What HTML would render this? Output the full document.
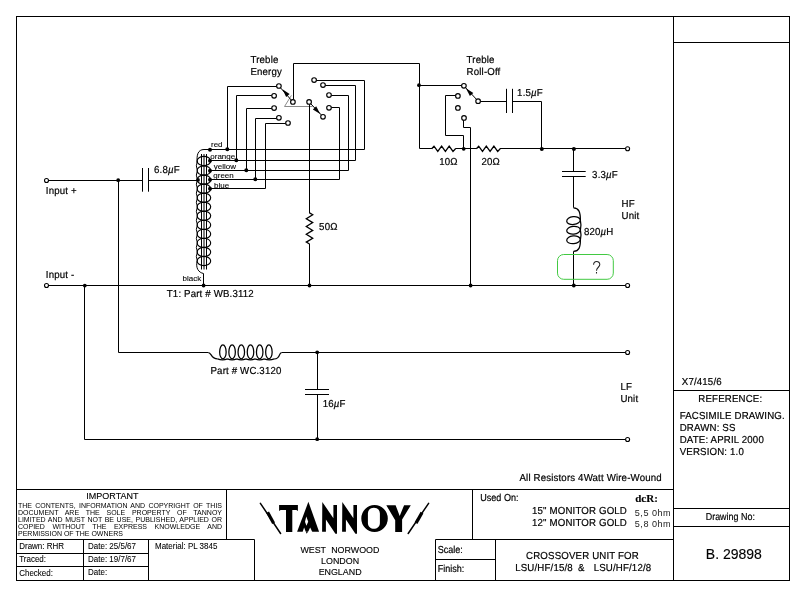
<!DOCTYPE html>
<html>
<head>
<meta charset="utf-8">
<title>Tannoy Crossover Unit B.29898</title>
<style>
html,body{margin:0;padding:0;background:#fff;}
body{width:806px;height:596px;overflow:hidden;position:relative;font-family:"Liberation Sans",sans-serif;}
svg{position:absolute;left:0;top:0;display:block;will-change:transform;}
#imp{will-change:transform;}
svg text{font-family:"Liberation Sans",sans-serif;fill:#000;stroke:#000;stroke-width:0.13px;}
.w{stroke:#000;stroke-width:1;fill:none;stroke-linecap:butt;stroke-linejoin:miter;}
.k{stroke-width:1.25;}
.k2{stroke-width:1.15;}
.r{stroke-width:1.3;}
.d{fill:#000;stroke:none;}
.g{stroke:#8a8a8a;stroke-width:1;fill:none;}
.c{fill:#fff;stroke:#000;stroke-width:1.15;}
.t{font-size:10.1px;letter-spacing:0.155px;stroke-width:0.2px !important;}
.n{font-size:8.9px;}
.i{font-size:9px;}
.b{font-size:14px;}
.u{font-size:10.1px;stroke-width:0.2px !important;}
.dn{font-size:10.1px;stroke-width:0.2px !important;}
.q{font-size:16px;fill:#333 !important;}
.o{font-size:9.1px;letter-spacing:0.5px;fill:#222 !important;stroke:none !important;}
.p{font-size:7.2px;stroke-width:0.1px !important;}
.s{font-size:8.5px;stroke-width:0.08px !important;}
.x{font-size:7px;}
.ser{font-family:"Liberation Serif",serif !important;font-weight:bold;font-size:11px;}
#imp{position:absolute;left:18.3px;top:502.7px;width:204px;font-size:7px;line-height:6.9px;color:#000;white-space:nowrap;}
#imp div{text-align:justify;text-align-last:justify;height:6.9px;}
#imp div.l{text-align-last:left;}
</style>
</head>
<body>
<svg width="806" height="596" viewBox="0 0 806 596">
<!-- FRAME -->
<g class="w" id="frame">
<rect x="16.5" y="16.5" width="773" height="564"/>
<path d="M673.5 16.5V580.5"/>
<path d="M673.5 42.5H789.5M673.5 390.5H789.5M673.5 508.5H789.5M673.5 526.5H789.5"/>
<path d="M16.5 489.5H673.5"/>
<path d="M16.5 539.5H254.5M435.5 539.5H673.5"/>
<path d="M226.5 489.5V539.5M472.5 489.5V539.5"/>
<path d="M254.5 539.5V580.5M435.5 539.5V580.5M495.5 539.5V580.5"/>
<path d="M435.5 559.5H495.5"/>
<path d="M83.5 539.5V580.5M148.5 539.5V580.5"/>
<path d="M16.5 553.5H148.5M16.5 566.5H148.5"/>
</g>
<!-- CIRCUIT -->
<g id="circuit">
<path class="w" d="M48.5 180.5H142.5M142.5 168V191.7M148.5 168V191.7M148.5 180.5H198"/>
<path class="w" d="M118.5 180.5V352.5H208.4"/>
<path class="w" d="M48.5 285.5H625.5"/>
<path class="w" d="M84.5 285.5V439.5H625.5"/>
<path class="w k" d="M208.4 352.5C211.5 352.5 211 358.9 217.5 358.9"/>
<ellipse class="w k" cx="222.9" cy="351.9" rx="3.25" ry="7.0"/>
<ellipse class="w k" cx="232.1" cy="351.9" rx="3.25" ry="7.0"/>
<ellipse class="w k" cx="241.3" cy="351.9" rx="3.25" ry="7.0"/>
<ellipse class="w k" cx="250.5" cy="351.9" rx="3.25" ry="7.0"/>
<ellipse class="w k" cx="259.7" cy="351.9" rx="3.25" ry="7.0"/>
<ellipse class="w k" cx="268.9" cy="351.9" rx="3.25" ry="7.0"/>
<path class="w k" d="M217.5 358.9Q222.5 360.7 227.5 358.9M227.5 358.9Q232.1 360.7 236.7 358.9M236.7 358.9Q241.3 360.7 245.9 358.9M245.9 358.9Q250.5 360.7 255.1 358.9M255.1 358.9Q259.7 360.7 264.3 358.9M264.3 358.9Q269.3 360.7 274.3 358.9"/>
<path class="w k" d="M274.3 358.9C280.8 358.9 278.5 352.5 281.6 352.5"/>
<path class="w" d="M281.6 352.5H625.5"/>
<path class="w" d="M317.5 352.5V389.5M305 389.5H329M305 394.5H329M317.5 394.5V439.5"/>
<circle class="d" cx="317.2" cy="352.3" r="1.9"/>
<circle class="d" cx="317.2" cy="439.2" r="1.9"/>
<circle class="d" cx="118.2" cy="180.2" r="1.9"/>
<circle class="d" cx="84.8" cy="285.6" r="1.9"/>
<ellipse class="w k2" cx="203.9" cy="161.0" rx="6.8" ry="4.6"/>
<ellipse class="w k2" cx="203.9" cy="170.6" rx="6.8" ry="4.6"/>
<ellipse class="w k2" cx="203.9" cy="179.7" rx="6.8" ry="4.6"/>
<ellipse class="w k2" cx="203.9" cy="188.7" rx="6.8" ry="4.6"/>
<ellipse class="w k2" cx="203.9" cy="197.8" rx="6.8" ry="4.6"/>
<ellipse class="w k2" cx="203.9" cy="206.8" rx="6.8" ry="4.6"/>
<ellipse class="w k2" cx="203.9" cy="215.8" rx="6.8" ry="4.6"/>
<ellipse class="w k2" cx="203.9" cy="224.9" rx="6.8" ry="4.6"/>
<ellipse class="w k2" cx="203.9" cy="233.9" rx="6.8" ry="4.6"/>
<ellipse class="w k2" cx="203.9" cy="242.9" rx="6.8" ry="4.6"/>
<ellipse class="w k2" cx="203.9" cy="252.0" rx="6.8" ry="4.6"/>
<ellipse class="w k2" cx="203.9" cy="261.0" rx="6.8" ry="4.6"/>
<path class="w" d="M201.5 154V269.5M204 154V269.5M206.5 154V269.5"/>
<path class="w" d="M201.5 165.8H206.5M201.5 175.1H206.5M201.5 184.2H206.5M201.5 193.2H206.5M201.5 202.3H206.5M201.5 211.3H206.5M201.5 220.4H206.5M201.5 229.4H206.5M201.5 238.4H206.5M201.5 247.4H206.5M201.5 256.5H206.5"/>
<path class="w" d="M197.3 163C196.3 155 198 149.5 204 149.5H210"/>
<path class="w" d="M197.4 161.0Q195.3 165.8 197.4 170.6M197.4 170.6Q195.3 175.1 197.4 179.7M197.4 179.7Q195.3 184.2 197.4 188.7M197.4 188.7Q195.3 193.2 197.4 197.8M197.4 197.8Q195.3 202.3 197.4 206.8M197.4 206.8Q195.3 211.3 197.4 215.8M197.4 215.8Q195.3 220.4 197.4 224.9M197.4 224.9Q195.3 229.4 197.4 233.9M197.4 233.9Q195.3 238.4 197.4 242.9M197.4 242.9Q195.3 247.4 197.4 252.0M197.4 252.0Q195.3 256.5 197.4 261.0"/>
<path class="w" d="M197.1 261.0C195.5 268 198.5 272.5 203.5 273.5V285.5"/>
<circle class="d" cx="203.6" cy="285.5" r="1.9"/>
<circle class="d" cx="198.0" cy="179.9" r="1.9"/>
<circle class="d" cx="210.0" cy="149.7" r="2.0"/>
<circle class="d" cx="210.0" cy="160.7" r="2.0"/>
<circle class="d" cx="210.0" cy="170.7" r="2.0"/>
<circle class="d" cx="210.0" cy="179.7" r="2.0"/>
<circle class="d" cx="210.0" cy="188.7" r="2.0"/>
<path class="w" d="M210 149.5H364.5"/>
<path class="w" d="M210 160.5H355.5"/>
<path class="w" d="M210 170.5H348.5"/>
<path class="w" d="M210 179.5H339.5"/>
<path class="w" d="M210 188.5H265.5V123.5H285.8"/>
<path class="w" d="M227.5 149.5V86.5H276.7"/>
<circle class="d" cx="227.3" cy="149.2" r="2.0"/>
<path class="w" d="M236.5 160.5V95.5H271.90000000000003"/>
<circle class="d" cx="236.3" cy="160.2" r="2.0"/>
<path class="w" d="M246.5 170.5V108.5H271.90000000000003"/>
<circle class="d" cx="246.3" cy="170.2" r="2.0"/>
<path class="w" d="M255.5 179.5V118.5H276.7"/>
<circle class="d" cx="255.3" cy="179.2" r="2.0"/>
<path class="w" d="M316.3 80.5H364.5V149.5"/>
<path class="w" d="M325.2 85.5H355.5V160.5"/>
<path class="w" d="M331.2 95.5H348.5V170.5"/>
<path class="w" d="M331.2 107.5H339.5V179.5"/>
<path class="w" d="M293.5 99.6V63.5H419.5V148.5"/>
<path class="g" d="M291.4 95.4L284.5 106.5H312.5"/>
<path class="w" d="M309.5 104.2V213.2M309.5 243.8V285.5"/>
<path class="w r" d="M309.5 212.9l3.2 1.9l-6.4 3.9l6.4 3.9l-6.4 3.9l6.4 3.9l-6.4 3.9l6.4 3.9l-6.4 3.9l3.2 1.9"/>
<circle class="d" cx="309.5" cy="285.5" r="1.9"/>
<path class="w" d="M291.3 100.1L280.5 87.8"/>
<path class="d" d="M282.4 89.3L289.6 94.0L286.2 97.0Z"/>
<path class="w" d="M310.7 103.7L321.4 115.0"/>
<path class="d" d="M320.2 113.9L312.9 109.4L316.2 106.3Z"/>
<circle class="c" cx="278.9" cy="86.0" r="2.3"/>
<circle class="c" cx="274.1" cy="95.8" r="2.3"/>
<circle class="c" cx="274.1" cy="108.1" r="2.3"/>
<circle class="c" cx="278.9" cy="117.8" r="2.3"/>
<circle class="c" cx="288.0" cy="123.0" r="2.3"/>
<circle class="c" cx="314.1" cy="80.1" r="2.3"/>
<circle class="c" cx="323.0" cy="85.1" r="2.3"/>
<circle class="c" cx="329.0" cy="95.1" r="2.3"/>
<circle class="c" cx="329.0" cy="107.8" r="2.3"/>
<circle class="c" cx="323.0" cy="116.8" r="2.3"/>
<circle class="c" cx="292.9" cy="101.9" r="2.3"/>
<circle class="c" cx="309.1" cy="101.9" r="2.3"/>
<path class="w" d="M419.5 148.5H432M455.2 148.5H476.7M499.9 148.5H625.5"/>
<path class="w r" d="M431.7 148.8l2.3 -2.6l3.8 5.2l3.8 -5.2l3.8 5.2l3.8 -5.2l3.8 5.2l2.5 -2.6M476.4 148.8l2.3 -2.6l3.8 5.2l3.8 -5.2l3.8 5.2l3.8 -5.2l3.8 5.2l2.5 -2.6"/>
<path class="w" d="M419.5 85.5H461.7"/>
<circle class="d" cx="419.0" cy="85.2" r="1.9"/>
<path class="w" d="M455.7 95.5H445.5V135.5H463.5V148.5"/>
<circle class="d" cx="463.7" cy="148.8" r="1.9"/>
<path class="w" d="M463.5 120.1V127.5H470.5V285.5"/>
<circle class="d" cx="470.6" cy="285.5" r="1.9"/>
<path class="w" d="M480.3 101.5H506.5M506.5 88.8V113M512.5 88.8V113M512.5 101.5H541.5V148.5"/>
<circle class="d" cx="541.8" cy="148.9" r="2.0"/>
<path class="w" d="M476.5 99.4L465.5 87.6"/>
<path class="d" d="M465.9 88.3L473.3 92.9L469.9 96.0Z"/>
<circle class="c" cx="463.9" cy="85.8" r="2.3"/>
<circle class="c" cx="457.9" cy="95.9" r="2.3"/>
<circle class="c" cx="457.9" cy="107.9" r="2.3"/>
<circle class="c" cx="464.0" cy="117.9" r="2.3"/>
<circle class="c" cx="478.1" cy="101.2" r="2.3"/>
<path class="w" d="M573.5 148.5V171.5M562 171.5H585.7M562 176.5H585.7M573.5 176.5V207.7"/>
<circle class="d" cx="573.9" cy="148.9" r="2.0"/>
<circle class="d" cx="573.8" cy="285.5" r="1.9"/>
<ellipse class="w k" cx="573.5" cy="220.6" rx="6.8" ry="3.9" transform="rotate(-6 573.5 220.6)"/>
<ellipse class="w k" cx="573.5" cy="230.2" rx="6.8" ry="3.9" transform="rotate(-6 573.5 230.2)"/>
<ellipse class="w k" cx="573.5" cy="239.8" rx="6.8" ry="3.9" transform="rotate(-6 573.5 239.8)"/>
<path class="w k" d="M573.5 207.9C579 208.2 580.4 212 580.4 220.6M580.4 220.6Q581.6 225.4 580.4 230.2M580.4 230.2Q581.6 235 580.4 239.8"/>
<path class="w k" d="M580.4 239.8C580.4 247.5 579 251 573.5 251.4"/>
<path class="w" d="M573.5 251.4V285.5"/>
<rect x="557.5" y="254.5" width="55.8" height="24.8" rx="6.2" ry="6.2" fill="none" stroke="#42c942" stroke-width="1"/>
<path d="M593.6 264.7C593.6 260.4 599.8 260.4 599.8 264.6C599.8 267.4 596.5 267.2 596.5 270.8M596.5 272.1V273.4" fill="none" stroke="#222" stroke-width="1.05"/>
<circle cx="46.5" cy="180.5" r="2.0" fill="#fff" stroke="#000" stroke-width="1.1"/>
<circle cx="46.5" cy="285.5" r="2.0" fill="#fff" stroke="#000" stroke-width="1.1"/>
<circle cx="627.6" cy="148.7" r="2.0" fill="#fff" stroke="#000" stroke-width="1.1"/>
<circle cx="627.6" cy="285.5" r="2.0" fill="#fff" stroke="#000" stroke-width="1.1"/>
<circle cx="627.6" cy="352.5" r="2.0" fill="#fff" stroke="#000" stroke-width="1.1"/>
<circle cx="627.6" cy="439.5" r="2.0" fill="#fff" stroke="#000" stroke-width="1.1"/>
</g><!--/circuit-->
<!-- TEXT -->
<g id="labels">
<text class="t" transform="translate(250.5 62.5) skewX(0.05) scale(0.9604 1)">Treble</text>
<text class="t" transform="translate(250.4 74.7) skewX(0.05) scale(0.9604 1)">Energy</text>
<text class="t" transform="translate(466.6 62.6) skewX(0.05) scale(0.9604 1)">Treble</text>
<text class="t" transform="translate(466.6 74.6) skewX(0.05) scale(0.9604 1)">Roll-Off</text>
<text class="t" transform="translate(517.1 95.8) skewX(0.05) scale(0.9604 1)">1.5<tspan font-style="italic">µ</tspan>F</text>
<text class="t" transform="translate(439.2 164.6) skewX(0.05) scale(0.9604 1)">10Ω</text>
<text class="t" transform="translate(481.4 164.6) skewX(0.05) scale(0.9604 1)">20Ω</text>
<text class="t" transform="translate(154 173.1) skewX(0.05) scale(0.9604 1)">6.8<tspan font-style="italic">µ</tspan>F</text>
<text class="t" transform="translate(592.1 178.4) skewX(0.05) scale(0.9604 1)">3.3<tspan font-style="italic">µ</tspan>F</text>
<text class="t" transform="translate(621.5 206.5) skewX(0.05) scale(0.9604 1)">HF</text>
<text class="t" transform="translate(621.5 218.9) skewX(0.05) scale(0.9604 1)">Unit</text>
<text class="t" transform="translate(584 234.6) skewX(0.05) scale(0.9604 1)">820<tspan font-style="italic">µ</tspan>H</text>
<text class="t" transform="translate(319.1 229.7) skewX(0.05) scale(0.9604 1)">50Ω</text>
<text class="t" transform="translate(45.8 194) skewX(0.05) scale(0.9604 1)">Input +</text>
<text class="t" transform="translate(45.8 277.8) skewX(0.05) scale(0.9604 1)">Input -</text>
<text class="t" transform="translate(166.8 296.8) skewX(0.05) scale(0.9604 1)">T1: Part # WB.3112</text>
<text class="t" transform="translate(210.5 373.5) skewX(0.05) scale(0.9604 1)">Part # WC.3120</text>
<text class="t" transform="translate(322.7 406.8) skewX(0.05) scale(0.9604 1)">16<tspan font-style="italic">µ</tspan>F</text>
<text class="t" transform="translate(620.4 389.5) skewX(0.05) scale(0.9604 1)">LF</text>
<text class="t" transform="translate(620.4 401.5) skewX(0.05) scale(0.9604 1)">Unit</text>
<text class="t" transform="translate(519.5 481.3) skewX(0.05) scale(0.9604 1)">All Resistors 4Watt Wire-Wound</text>
<text class="p" transform="translate(211 147.1) scale(1.1111 1)">red</text>
<text class="p" transform="translate(210.3 158.8) scale(1.1111 1)">orange</text>
<text class="p" transform="translate(213.8 168.7) scale(1.1111 1)">yellow</text>
<text class="p" transform="translate(213.3 177.6) scale(1.1111 1)">green</text>
<text class="p" transform="translate(214.1 188.0) scale(1.1111 1)">blue</text>
<text class="p" transform="translate(182.6 280.5) scale(1.1111 1)">black</text>
<text class="i" x="112.4" y="498.8" text-anchor="middle">IMPORTANT</text>
<text class="s" transform="translate(19.2 549) scale(0.9412 1)">Drawn: RHR</text>
<text class="s" transform="translate(19.2 561.8) scale(0.9412 1)">Traced:</text>
<text class="s" transform="translate(19.2 575.6) scale(0.9412 1)">Checked:</text>
<text class="s" transform="translate(88 549) scale(0.9412 1)">Date: 25/5/67</text>
<text class="s" transform="translate(88 561.8) scale(0.9412 1)">Date: 19/7/67</text>
<text class="s" transform="translate(88 574.5) scale(0.9412 1)">Date:</text>
<text class="s" transform="translate(155 549) scale(0.9412 1)">Material: PL 3845</text>
<text class="n" x="300.4" y="552.9">WEST</text>
<text class="n" x="331.2" y="552.9">NORWOOD</text>
<text class="n" x="340.1" y="563.7" text-anchor="middle">LONDON</text>
<text class="n" x="340.1" y="574.5" text-anchor="middle">ENGLAND</text>
<text class="u" transform="translate(480.3 501.4) skewX(0.05) scale(0.8960 1)">Used On:</text>
<text class="ser" x="635.2" y="501.6">dcR:</text>
<text class="t" transform="translate(532 514.4) skewX(0.05) scale(0.9604 1)">15" MONITOR GOLD</text>
<text class="t" transform="translate(532 526.1) skewX(0.05) scale(0.9604 1)">12" MONITOR GOLD</text>
<text class="o" x="634.8" y="515.9">5,5 0hm</text>
<text class="o" x="634.8" y="526.5">5,8 0hm</text>
<text class="u" transform="translate(437.7 552.9) skewX(0.05) scale(0.8960 1)">Scale:</text>
<text class="u" transform="translate(437.7 571.6) skewX(0.05) scale(0.8960 1)">Finish:</text>
<text class="t" transform="translate(582.5 558.5) skewX(0.05) scale(0.9604 1)" text-anchor="middle">CROSSOVER UNIT FOR</text>
<text class="t" transform="translate(515.2 571.1) skewX(0.05) scale(0.9604 1)">LSU/HF/15/8</text>
<text class="t" transform="translate(651.3 571.1) skewX(0.05) scale(0.9604 1)" text-anchor="end">LSU/HF/12/8</text>
<text class="t" transform="translate(581.4 571.1) skewX(0.05) scale(0.9604 1)" text-anchor="middle">&amp;</text>
<text class="t" transform="translate(681.8 384.8) skewX(0.05) scale(0.9604 1)">X7/415/6</text>
<text class="t" transform="translate(730.3 401.7) skewX(0.05) scale(0.9604 1)" text-anchor="middle">REFERENCE:</text>
<text class="t" transform="translate(679.7 418.8) skewX(0.05) scale(0.9604 1)">FACSIMILE DRAWING.</text>
<text class="t" transform="translate(679.7 430.5) skewX(0.05) scale(0.9604 1)">DRAWN: SS</text>
<text class="t" transform="translate(679.7 442.6) skewX(0.05) scale(0.9604 1)">DATE: APRIL 2000</text>
<text class="t" transform="translate(679.7 454.5) skewX(0.05) scale(0.9604 1)">VERSION: 1.0</text>
<text class="dn" transform="translate(730.3 519.6) skewX(0.05) scale(0.8861 1)" text-anchor="middle">Drawing No:</text>
<text class="b" x="733.9" y="558.9" text-anchor="middle">B. 29898</text>
</g><!--/labels-->
<!-- LOGO -->
<g id="logo">
<path d="M260.4 503.3L280.6 533.5" stroke="#000" stroke-width="1.5" stroke-linecap="round" fill="none"/>
<path d="M267.6 512.3L273.6 523.3" stroke="#000" stroke-width="3.2" fill="none"/>
<path d="M279.1 505H297.9V511L296.4 510.1H292.3V531.9H286V510.1H280.6L279.1 511Z" fill="#000"/>
<path d="M308.4 501.8L319.1 531.8H297.1Z" fill="#000"/>
<path d="M302.6 531.9L304.1 527.4L305.8 531.9Z" fill="#fff"/>
<path d="M308 531.9L310.2 527.4L312.3 531.9Z" fill="#fff"/>
<path d="M306.3 516.5L308.2 521.8L306.4 525.8L305 521.8Z" fill="#fff"/>
<path d="M305.8 531.7L306.7 533.7L308 531.7Z" fill="#000"/>
<path d="M322.3 501.9L322.1 531.7L325.9 531.7L325.9 519.6L335.4 533.7L337.0 533.7L337.0 504.9L333.4 504.9L333.4 518.3Z" fill="#000"/>
<path d="M342.3 501.9L342.1 531.7L345.9 531.7L345.9 519.6L355.4 533.7L357.0 533.7L357.0 504.9L353.4 504.9L353.4 518.3Z" fill="#000"/>
<path fill-rule="evenodd" fill="#000" d="M361.3 518.5a13.25 13.45 0 1 0 26.5 0a13.25 13.45 0 1 0 -26.5 0ZM367.9 513.5C367.9 505.8 379.9 505.8 379.9 513.5V523.1C379.9 530.8 367.9 530.8 367.9 523.1Z"/>
<path d="M386.3 505.2H395.6L399.7 515.9L404.1 505.2H410.8L402.1 519.6V531.9H395.2V520.3Z" fill="#000"/>
<path d="M428.6 503.3L408.2 533.5" stroke="#000" stroke-width="1.5" stroke-linecap="round" fill="none"/>
<path d="M422 512.6L416 523.1" stroke="#000" stroke-width="3.2" fill="none"/>
</g><!--/logo-->
</svg>
<div id="imp">
<div>THE CONTENTS, INFORMATION AND COPYRIGHT OF THIS</div>
<div>DOCUMENT ARE THE SOLE PROPERTY OF TANNOY</div>
<div>LIMITED AND MUST NOT BE USE, PUBLISHED, APPLIED OR</div>
<div>COPIED WITHOUT THE EXPRESS KNOWLEDGE AND</div>
<div class="l">PERMISSION OF THE OWNERS</div>
</div>
</body>
</html>
